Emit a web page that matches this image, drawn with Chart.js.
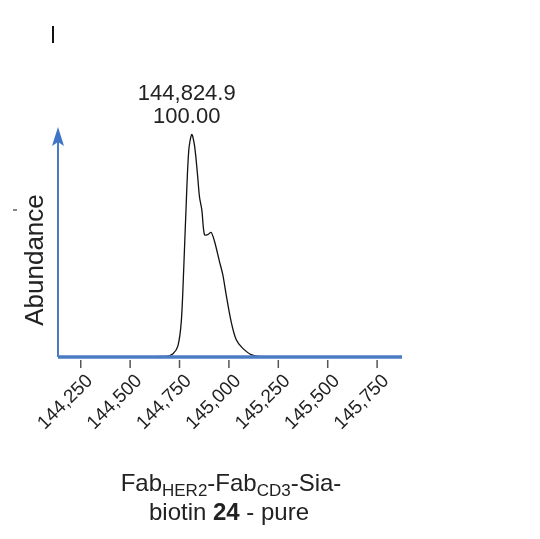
<!DOCTYPE html>
<html><head><meta charset="utf-8">
<script src="https://cdn.jsdelivr.net/npm/chart.js@4"></script>
<style>html,body{margin:0;padding:0;background:#fff}#w{width:540px;height:539px}</style>
</head><body><div id="w"><canvas id="c"></canvas></div>
<script>
const massValues = [144135,144683,144717,144742,144759,144771,144784,144797,144812,144826,144840,144851,144863,144876,144893,144910,144927,144952,144969,144986,145011,145036,145069,145120,145187,145876];
const abundance = [0,0.3,1.5,5,16,39,69,93,100,95,83,72,66,55,55,56,52,43,37,28,16,8,4,0.8,0,0];
const tickValues = [144250,144500,144750,145000,145250,145500,145750];
const peakLabels = ["144,824.9","100.00"];
const peakMass = 144812;

const deco = {
  id:'deco',
  afterDraw(ch){
    const c=ch.ctx, xs=ch.scales.x, ys=ch.scales.y, a=ch.chartArea;
    const base=ys.getPixelForValue(0);
    const F='"Liberation Sans", Arial, sans-serif';
    c.save();
    c.strokeStyle='#4a7cc4';
    c.lineWidth=3.5; c.beginPath(); c.moveTo(a.left,base); c.lineTo(a.right,base); c.stroke();
    c.lineWidth=2; c.beginPath(); c.moveTo(a.left,base); c.lineTo(a.left,a.top+10); c.stroke();
    c.fillStyle='#3f74c6'; c.beginPath(); c.moveTo(a.left,a.top-3); c.lineTo(a.left-6,a.top+16); c.lineTo(a.left,a.top+12); c.lineTo(a.left+6,a.top+16); c.closePath(); c.fill();
    c.strokeStyle='#555'; c.lineWidth=1.5;
    c.fillStyle='#222'; c.font='19px '+F;
    tickValues.forEach(v=>{
      const x=xs.getPixelForValue(v);
      c.beginPath(); c.moveTo(x,base+3); c.lineTo(x,base+11); c.stroke();
      c.save(); c.translate(x+9,base+21); c.rotate(-Math.PI/4);
      c.textAlign='right'; c.textBaseline='middle';
      c.fillText(v.toLocaleString('en-US'),0,0); c.restore();
    });
    c.font='22px '+F; c.textAlign='center'; c.textBaseline='middle'; c.fillStyle='#222';
    const px=xs.getPixelForValue(peakMass)-5;
    c.fillText(peakLabels[0],px,94); c.fillText(peakLabels[1],px,117);
    c.save(); c.translate(36,260); c.rotate(-Math.PI/2); c.font='26px '+F; c.fillText('Abundance',0,0); c.restore();
    const big='24px '+F, sm='17px '+F;
    const parts=[['Fab',big,0],['HER2',sm,7],['-Fab',big,0],['CD3',sm,7],['-Sia-',big,0]];
    c.textAlign='left';
    let w=0; parts.forEach(p=>{c.font=p[1]; w+=c.measureText(p[0]).width;});
    let x=231-w/2;
    parts.forEach(p=>{c.font=p[1]; c.fillText(p[0],x,484+p[2]); x+=c.measureText(p[0]).width;});
    const p2=[['biotin ',big],['24',"bold "+big],[' - pure',big]];
    w=0; p2.forEach(p=>{c.font=p[1]; w+=c.measureText(p[0]).width;});
    x=229-w/2;
    p2.forEach(p=>{c.font=p[1]; c.fillText(p[0],x,513); x+=c.measureText(p[0]).width;});
    c.strokeStyle='#111'; c.lineWidth=2; c.beginPath(); c.moveTo(53,26); c.lineTo(53,43); c.stroke();
    c.lineWidth=1; c.beginPath(); c.moveTo(13,210); c.lineTo(17,210); c.stroke();
    c.restore();
  }
};

new Chart(document.getElementById('c'),{
  type:'line',
  data:{datasets:[{data:massValues.map((m,i)=>({x:m,y:abundance[i]})),borderColor:'#111',borderWidth:1.3,pointRadius:0,tension:0.3,fill:false}]},
  options:{
    responsive:true,maintainAspectRatio:false,animation:false,
    layout:{padding:{left:58,right:138,top:130,bottom:182}},
    plugins:{legend:{display:false},tooltip:{enabled:false}},
    scales:{
      x:{type:'linear',min:144135,max:145876,display:false},
      y:{min:0,max:102,display:false}
    }
  },
  plugins:[deco]
});
</script></body></html>
